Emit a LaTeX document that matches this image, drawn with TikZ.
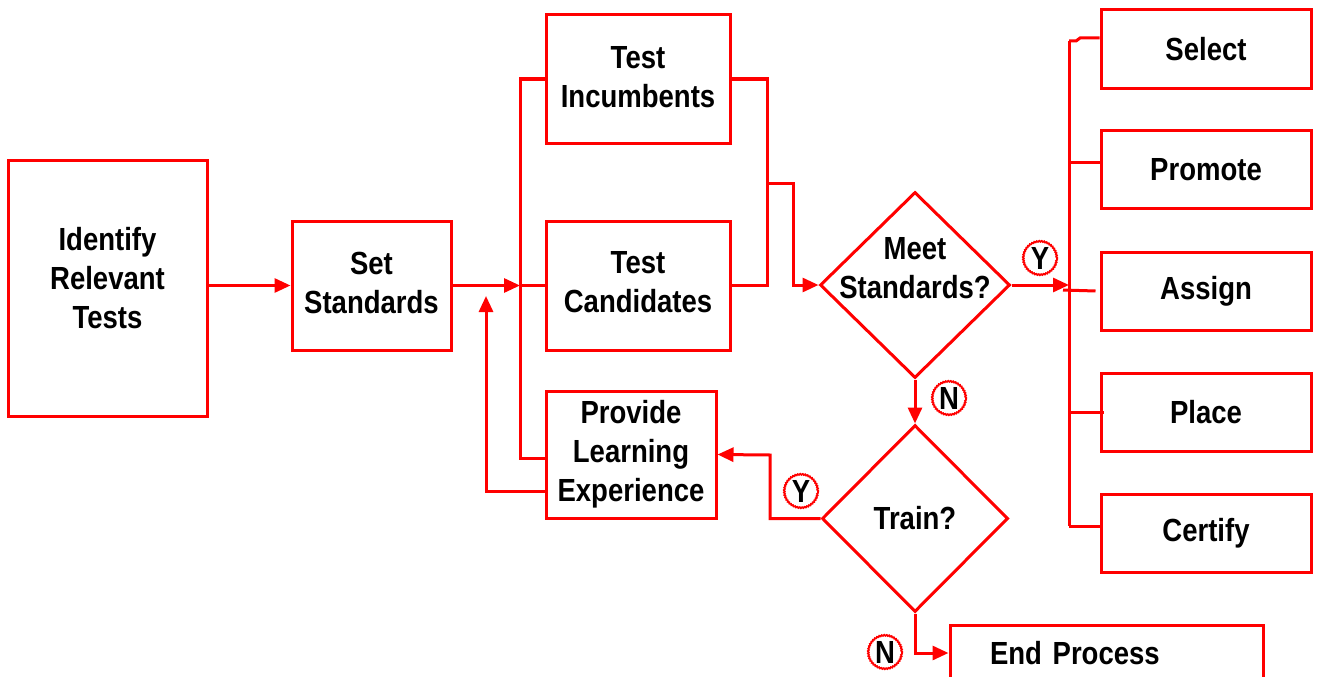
\documentclass[tikz,border=0pt]{standalone}
\usepackage{fontspec}
\setmainfont[FakeStretch=0.86]{Liberation Sans}
\usetikzlibrary{arrows.meta,shapes.geometric,decorations.pathmorphing}
\tikzset{
  txt/.style={font=\bfseries\fontsize{32}{39}\selectfont, align=center},
  box/.style={txt, draw=red, line width=3pt, inner sep=0pt},
  decision/.style={box, diamond},
  wire/.style={draw=red, line width=3pt},
  arrow/.style={wire, -{Triangle[length=16pt,width=14pt]}},
  tag/.style={txt, circle, draw=red, line width=1.8pt, inner sep=0pt, minimum size=34pt,
    decorate, decoration={bumps, segment length=5pt, amplitude=0.8pt}}
}
\begin{document}
\begin{tikzpicture}[x=1pt,y=-1pt]
\useasboundingbox (0,0) rectangle (1317,677);
\clip (0,0) rectangle (1317,677);

\node[box, minimum width=199pt, minimum height=256pt, text depth=20pt] (ident) at (107.5,288) {Identify\\Relevant\\Tests};
\node[box, minimum width=159pt, minimum height=129pt, text depth=5pt] (setstd) at (371.5,285.5) {Set\\Standards};
\node[box, minimum width=184pt, minimum height=128pt, text depth=4pt] (inc) at (638,79) {Test\\Incumbents};
\node[box, minimum width=184pt, minimum height=129pt, text depth=8pt] (cand) at (638,285.5) {Test\\Candidates};
\node[box, minimum width=170pt, minimum height=127pt] (prov) at (631,454.5) {Provide\\Learning\\Experience};
\node[decision, minimum width=190pt, minimum height=186pt,
  label={[txt, yshift=17pt]center:Meet\\Standards?}] (meet) at (915,285) {};
\node[decision, minimum width=186pt, minimum height=187pt,
  label={[txt]center:Train?}] (train) at (915,518.5) {};
\node[box, minimum width=313pt, minimum height=56pt, text width=233pt, inner xsep=40pt, align=left] (endp) at (1106.5,653) {End Process};

\foreach \name/\word/\y in {sel/Select/49, prom/Promote/169.5, asg/Assign/291, plc/Place/412.5, cert/Certify/533.5}
{
\node[box, minimum width=210pt, minimum height=78pt] (\name) at (1206,\y) {\word};
}

\coordinate (lbus) at (520,285.5);
\coordinate (rmid) at (767,183);
\coordinate (rtop) at (1069,41);
\coordinate (rbot) at (1069,526);

\draw [arrow] (ident.east |- setstd.west) -- (setstd.west);
\draw [arrow] (setstd.east) -- (lbus);
\draw [wire] (inc.west) -| (lbus) |- (prov.west |- 0,458);
\draw [wire] (lbus) -- (cand.west);
\draw [arrow] (prov.west |- 0,491) -| (486,296);

\draw [wire] (inc.east) -| (rmid) |- (cand.east);
\draw [arrow] (rmid) -| (793,285) -- (meet.west);

\draw [arrow] (meet.east) -- (meet.east -| rtop);
\draw [wire] (rtop) -- (rbot);
\draw [wire] (rtop) -- (1076,41) -- (1080,38) -- (sel.west |- 0,38);
\draw [wire] (rtop |- 0,162) -- (prom.west |- 0,162);
\draw [wire] (1063,290) -- ([xshift=-4pt]asg.west);
\draw [wire] (rtop |- plc.west) -- ([xshift=4pt]plc.west);
\draw [wire] (rbot) -- (cert.west |- rbot);

\draw [arrow] (meet.south) -- (train.north);
\draw [arrow] (train.west) -| (770,455) -- (prov.east);
\draw [arrow] (train.south) |- (endp.west);

\node[tag] (ym) at (1040,258) {Y};
\node[tag] (nm) at (949,398) {N};
\node[tag] (yt) at (801,491) {Y};
\node[tag] (nt) at (885,652) {N};

\end{tikzpicture}
\end{document}
